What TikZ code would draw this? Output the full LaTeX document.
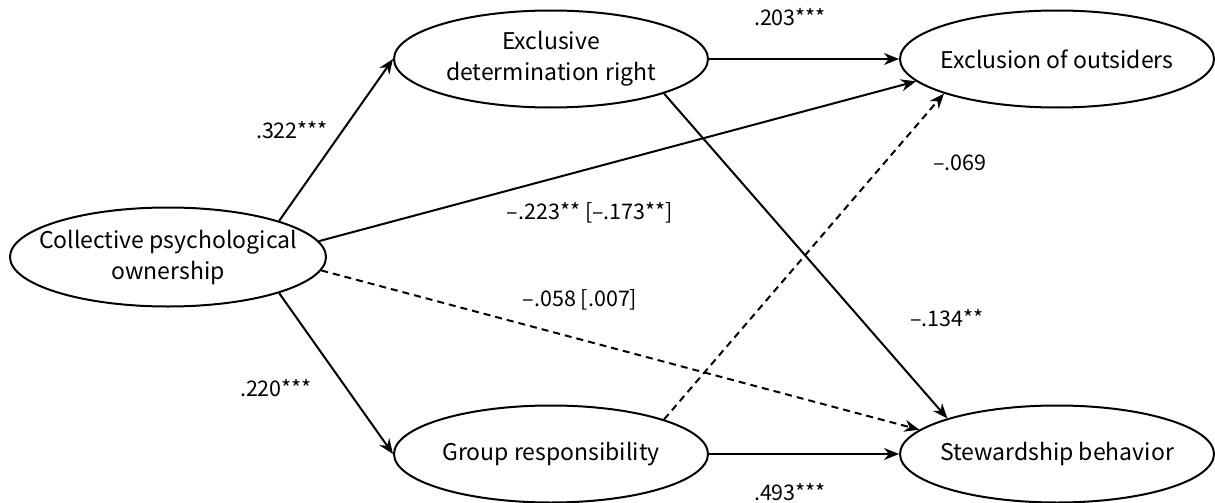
\documentclass[tikz,border=0pt]{standalone}
\usepackage{fontspec}
\setmainfont{Noto Sans CJK JP}
\usetikzlibrary{shapes.geometric,arrows.meta}
\begin{document}
\begin{tikzpicture}[x=1pt,y=-1pt,
  var/.style={draw,ellipse,line width=2pt,inner sep=0pt,minimum width=314pt,minimum height=97pt},
  vtext/.style={align=center,inner sep=0pt,font=\fontsize{23}{31}\selectfont},
  lab/.style={font=\fontsize{21.5}{24}\selectfont,inner sep=0pt},
  path/.style={line width=2pt,-{Stealth[length=15pt,width=12pt]}},
  nspath/.style={path,dashed,dash pattern=on 7pt off 5pt}]
\useasboundingbox (0,0) rectangle (1215,503);
\node[var,minimum width=316pt,minimum height=99pt] (cpo) at (168,257) {};
\node[vtext] (cpot) at (cpo) {Collective psychological\\ownership};
\node[var] (edr) at (551,59) {};
\node[vtext] (edrt) at (edr) {Exclusive\\determination right};
\node[var] (exo) at (1057,59) {};
\node[vtext] (exot) at (exo) {Exclusion of outsiders};
\node[var] (grp) at (551,454) {};
\node[vtext] (grpt) at (grp) {Group responsibility};
\node[var] (stw) at (1057,454) {};
\node[vtext] (stwt) at (stw) {Stewardship behavior};
\draw[path] (cpo.18) -- (edr.180);
\draw[path] (cpo.6) -- (exo.189);
\draw[nspath] (cpo.-5) -- (stw.170);
\draw[path] (cpo.-18) -- (grp.180);
\draw[path] (edr.0) -- (exo.180);
\draw[path] (edr.-17) -- (stw.162);
\draw[nspath] (grp.17) -- (exo.197);
\draw[path] (grp.0) -- (stw.180);
\node[lab] (l1) at (292,130) {.322***};
\node[lab] (l2) at (590,213) {–.223** [–.173**]};
\node[lab] (l3) at (580,300) {–.058 [.007]};
\node[lab] (l4) at (276,388) {.220***};
\node[lab] (l5) at (790,17) {.203***};
\node[lab] (l6) at (960,163) {–.069};
\node[lab] (l7) at (947,318) {–.134**};
\node[lab] (l8) at (790,492) {.493***};
\end{tikzpicture}
\end{document}
